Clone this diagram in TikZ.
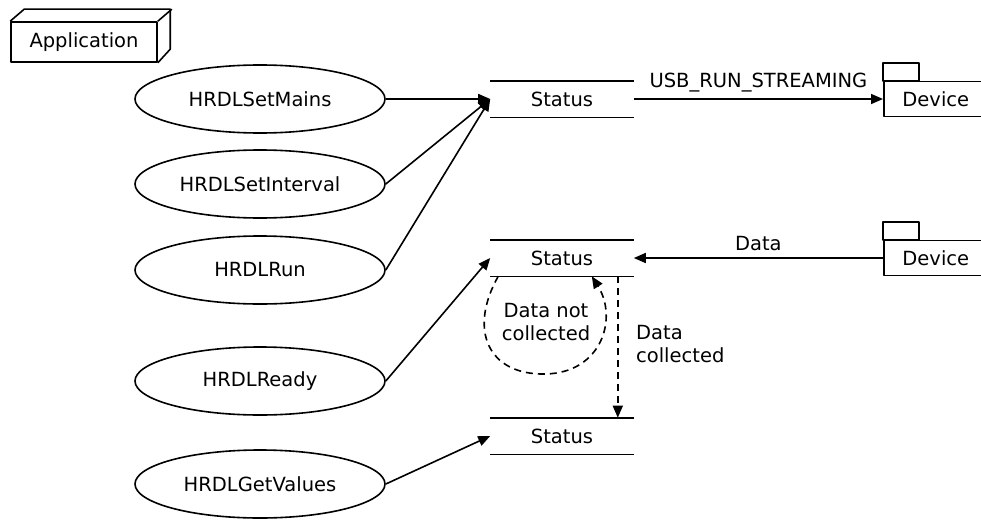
\documentclass[tikz,border=0pt]{standalone}
\usepackage{fontspec}
\setmainfont{DejaVu Sans}
\usetikzlibrary{arrows.meta,shapes.geometric}

\begin{document}
\begin{tikzpicture}[
        x = 1pt, y = -1pt,
        line join=round,
        line width = 1.6pt,
        font = \fontsize{19.5}{23}\selectfont,
        usecase/.style = {ellipse, draw, minimum width=250pt, minimum height=68pt, inner sep=0pt},
        statusbox/.style = {minimum width=142pt, minimum height=35pt, inner sep=0pt},
        devicebox/.style = {draw, anchor=west, minimum width=104pt, minimum height=35pt, inner sep=0pt},
        flow/.style = {-{Triangle[length=12pt,width=10pt]}},
        dashflow/.style = {flow, dash pattern=on 7pt off 5pt}
    ]
        \useasboundingbox (0,0) rectangle (981,519);

        % application box
        \node[draw, minimum width=146pt, minimum height=40pt, inner sep=0pt] (app) at (84,42) {Application};
        \draw (app.north west) -- ++(14,-12) -- ++(146,0) -- ++(0,40) -- (app.south east);
        \draw (app.north east) -- ++(14,-12);

        % use cases
        \node[usecase] (mains) at (260,99) {HRDLSetMains};
        \node[usecase] (interval) at (260,184) {HRDLSetInterval};
        \node[usecase] (run) at (260,270) {HRDLRun};
        \node[usecase] (ready) at (260,381) {HRDLReady};
        \node[usecase] (values) at (260,484) {HRDLGetValues};

        % status
        \node[statusbox] (s1) at (562,99) {Status};
        \node[statusbox] (s2) at (562,258) {Status};
        \node[statusbox] (s3) at (562,436) {Status};
        \foreach \s in {s1,s2,s3} {
            \draw (\s.north west) -- (\s.north east);
            \draw (\s.south west) -- (\s.south east);
        }

        % devices
        \node[devicebox] (d1) at (883,99) {Device};
        \node[devicebox] (d2) at (883,258) {Device};
        \draw (d1.north west) rectangle ++(36,-18);
        \draw (d2.north west) rectangle ++(36,-18);

        \draw[flow] (mains.east) -- (s1.west);
        \draw[flow] (interval.east) -- (s1.west);
        \draw[flow] (run.east) -- (s1.west);
        \draw[flow] (ready.east) -- (s2.west);
        \draw[flow] (values.east) -- (s3.west);

        \draw[flow] (s1.east) -- node[above=3pt] {USB\_RUN\_STREAMING} (d1.west);
        \draw[flow] (d2.west) -- node[above=3pt] {Data} (s2.east);

        \draw[dashflow] ([xshift=-16pt]s2.south east) -- ([xshift=-16pt]s3.north east);
        \node[align=left, anchor=west] (coll) at (632,344) {Data\\collected};

        \draw[dashflow] ([xshift=8pt]s2.south west) .. controls (468,330) and (488,375) .. (545,374)
            .. controls (602,373) and (618,318) .. ([xshift=-42pt]s2.south east);
        \node[align=center] (notcoll) at (546,322) {Data not\\collected};

    \end{tikzpicture}
\end{document}
